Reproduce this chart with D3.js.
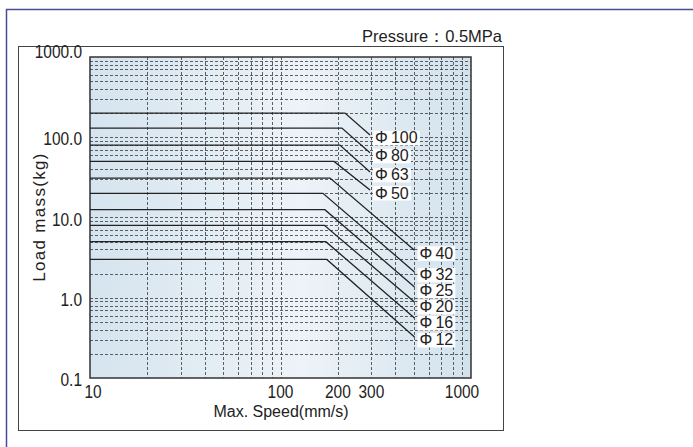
<!DOCTYPE html>
<html>
<head>
<meta charset="utf-8">
<script src="https://cdn.jsdelivr.net/npm/d3@7"></script>
<style>
  body { margin: 0; background: #fff; }
  text { font-family: "Liberation Sans", Arial, sans-serif; fill: #222; }
</style>
</head>
<body>
<svg id="chart" width="693" height="447"></svg>
<script>
// bore sizes, load (kg) on the flat part, speed where it starts to fall,
// and the point where each line ends (speed mm/s, load kg)
let bores = ["100", "80", "63", "50", "40", "32", "25", "20", "16", "12"];
let loads = [200, 130, 80, 50, 31, 20, 12.5, 8, 5, 3];
let kneeSpeed = [218, 210, 205, 191, 182, 167, 171, 170, 173, 175];
let endSpeed = [295, 295, 295, 295, 505, 505, 505, 505, 505, 505];
let endLoad = [107, 64, 37, 22, 3.9, 2.1, 1.36, 0.885, 0.56, 0.325];

let xTicks = [10, 100, 200, 300, 1000];
let xTickLabels = ["10", "100", "200", "300", "1000"];
let yTicks = [1000, 100, 10, 1, 0.1];
let yTickLabels = ["1000.0", "100.0", "10.0", "1.0", "0.1"];

let svg = d3.select("#chart");

let x = d3.scaleLog().domain([10, 1000]).range([90, 471]);
let y = d3.scaleLog().domain([0.1, 1000]).range([378, 57]);

// frames
svg.append("rect")
   .attr("x", 6.5).attr("y", 9.5).attr("width", 720).attr("height", 460)
   .attr("fill", "none").attr("stroke", "#4b4b9e").attr("stroke-width", 1.5);
svg.append("rect")
   .attr("x", 18.5).attr("y", 46.5).attr("width", 485).attr("height", 384)
   .attr("fill", "none").attr("stroke", "#444").attr("stroke-width", 1);

// plot background
let defs = svg.append("defs");
let grad = defs.append("linearGradient").attr("id", "bg")
   .attr("x1", "0%").attr("x2", "100%").attr("y1", "0%").attr("y2", "0%");
grad.append("stop").attr("offset", "0%").attr("stop-color", "#d5e4ef");
grad.append("stop").attr("offset", "55%").attr("stop-color", "#edf3f8");
grad.append("stop").attr("offset", "100%").attr("stop-color", "#d2e2ed");

svg.append("rect")
   .attr("x", x(10)).attr("y", y(1000))
   .attr("width", x(1000) - x(10)).attr("height", y(0.1) - y(1000))
   .attr("fill", "url(#bg)");

// dashed grid
let xGrid = [];
[10, 100].forEach(function(d) { for (let k = 2; k <= 10; k++) xGrid.push(d * k); });
xGrid = xGrid.filter(function(v) { return v < 1000; });
let yGrid = [];
[0.1, 1, 10, 100].forEach(function(d) { for (let k = 2; k <= 10; k++) yGrid.push(d * k); });
yGrid = yGrid.filter(function(v) { return v < 999; });

let grid = svg.append("g").attr("class", "grid")
   .attr("stroke", "#3a3a3a").attr("stroke-width", 0.8).attr("stroke-dasharray", "3,2");
grid.selectAll("line.v").data(xGrid).enter().append("line")
   .attr("class", "v")
   .attr("x1", function(d) { return Math.round(x(d)) + 0.5; })
   .attr("x2", function(d) { return Math.round(x(d)) + 0.5; })
   .attr("y1", y(1000)).attr("y2", y(0.1));
grid.selectAll("line.h").data(yGrid).enter().append("line")
   .attr("class", "h")
   .attr("y1", function(d) { return Math.round(y(d)) + 0.5; })
   .attr("y2", function(d) { return Math.round(y(d)) + 0.5; })
   .attr("x1", x(10)).attr("x2", x(1000));

// plot border
svg.append("rect")
   .attr("x", x(10)).attr("y", y(1000))
   .attr("width", x(1000) - x(10)).attr("height", y(0.1) - y(1000))
   .attr("fill", "none").attr("stroke", "#333").attr("stroke-width", 1.5);

// curves
let curves = bores.map(function(b, i) {
    return [[10, loads[i]], [kneeSpeed[i], loads[i]], [endSpeed[i], endLoad[i]]];
});
let line = d3.line().x(function(d) { return x(d[0]); }).y(function(d) { return y(d[1]); });
svg.append("g").selectAll("path").data(curves).enter().append("path")
   .attr("fill", "none").attr("stroke", "#222").attr("stroke-width", 1.3)
   .attr("d", line);

// bore labels with white boxes, stacked so they do not run into each other
let labels = svg.append("g");
let lastY = -1e9, lastX = null;
bores.forEach(function(b, i) {
    let lx = x(endSpeed[i]) + 5;
    let ly = y(endLoad[i]) + 8.5;
    if (lx === lastX && ly < lastY + 16) ly = lastY + 16;
    lastY = ly; lastX = lx;
    let box = labels.append("rect").attr("fill", "#fff");
    let t = labels.append("text")
       .attr("x", lx).attr("y", ly)
       .attr("font-size", 16)
       .text("\u03A6\u2009" + b);
    let bb = t.node().getBBox();
    box.attr("x", bb.x - 2).attr("y", bb.y + 1.5)
       .attr("width", bb.width + 4).attr("height", bb.height - 2.5);
});

// tick labels (narrow digits)
xTicks.forEach(function(v, i) {
    let dx = 0;
    if (i === 0) dx = 3;
    if (i === xTicks.length - 1) dx = -9;
    svg.append("text")
       .attr("transform", "translate(" + (x(v) + dx) + "," + 398 + ") scale(0.86,1)")
       .attr("text-anchor", "middle").attr("font-size", 18)
       .text(xTickLabels[i]);
});
yTicks.forEach(function(v, i) {
    let yy = y(v) + 8;
    if (i === 0) yy = y(v) + 1;
    svg.append("text")
       .attr("transform", "translate(82," + yy + ") scale(0.86,1)")
       .attr("text-anchor", "end").attr("font-size", 18)
       .text(yTickLabels[i]);
});

// titles
svg.append("text")
   .attr("x", 502).attr("y", 42).attr("text-anchor", "end")
   .attr("font-size", 16.5)
   .text("Pressure\uFF1A0.5MPa");
svg.append("text")
   .attr("x", 281).attr("y", 417).attr("text-anchor", "middle")
   .attr("font-size", 16)
   .text("Max. Speed(mm/s)");
svg.append("text")
   .attr("transform", "translate(45,217) rotate(-90)")
   .attr("text-anchor", "middle").attr("font-size", 17)
   .attr("letter-spacing", 1.3)
   .text("Load mass(kg)");
</script>
</body>
</html>
